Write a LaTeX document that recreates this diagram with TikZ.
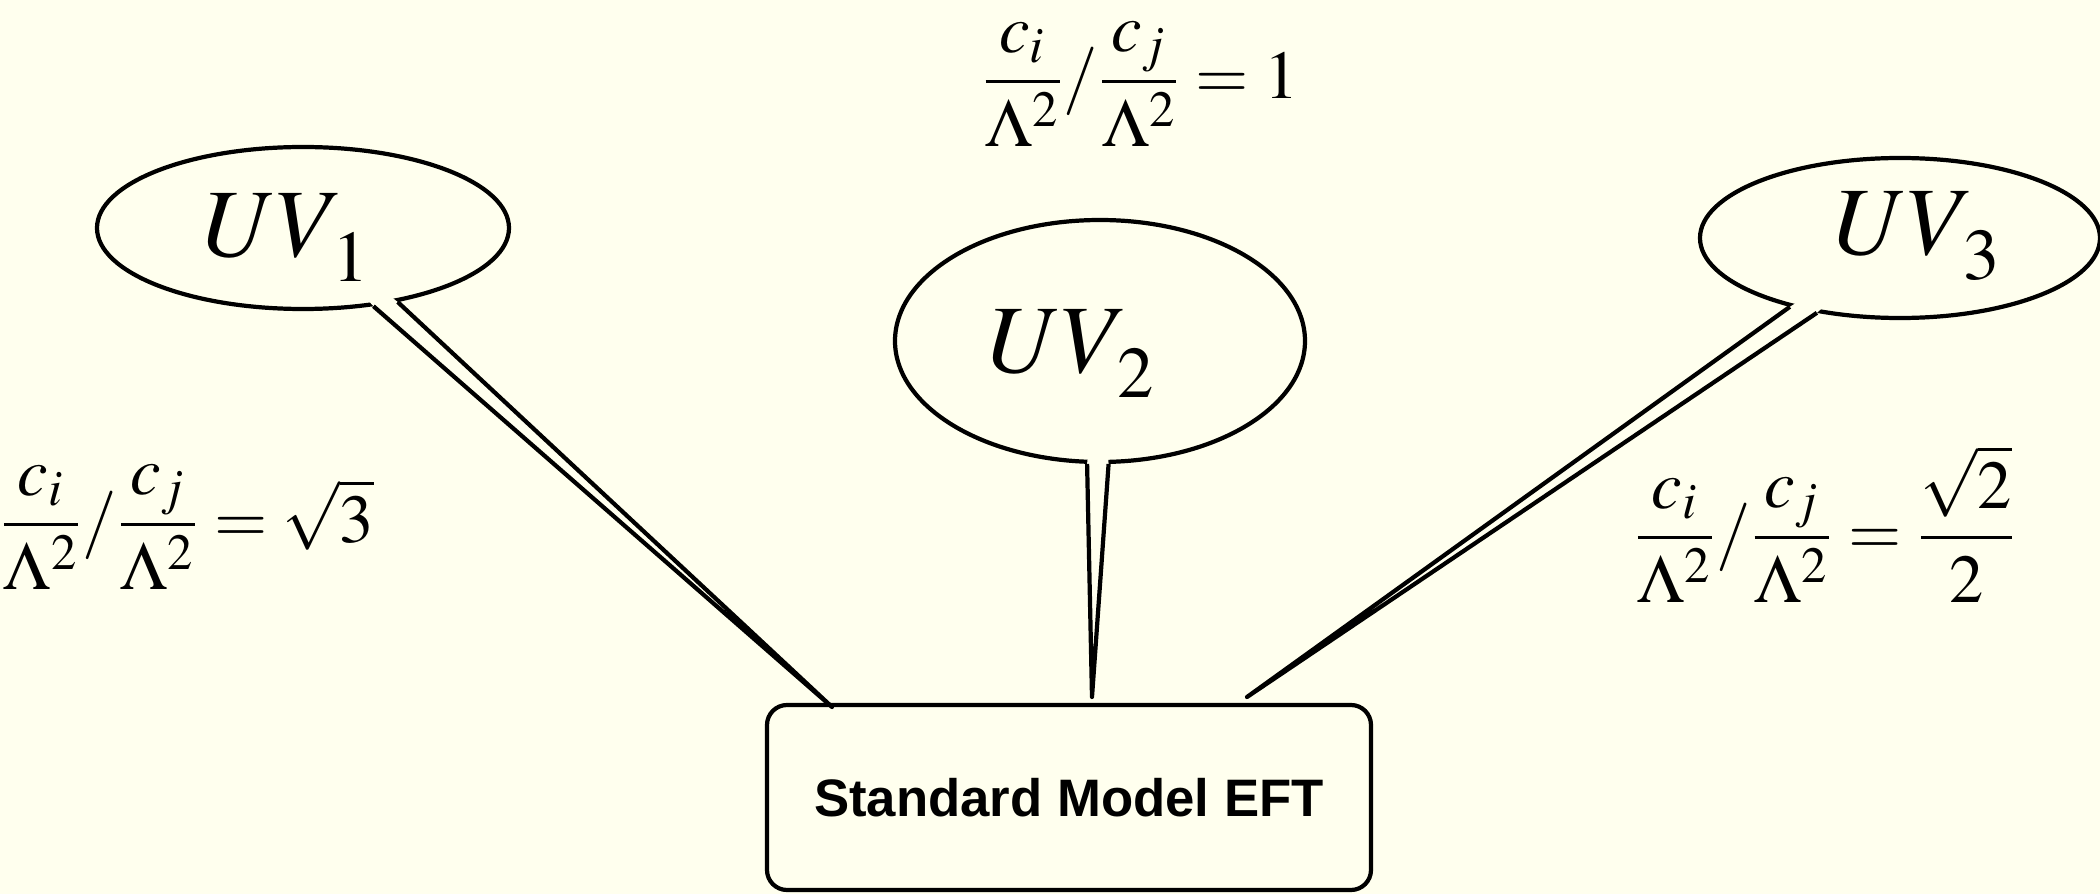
\documentclass[tikz,border=0pt]{standalone}
\usepackage{amsmath}
\usepackage{mathptmx}
\usepackage[no-math]{fontspec}
\usepackage{tikz}
\usetikzlibrary{calc,shapes.geometric}
\newfontfamily\eftfont{Liberation Sans}
\definecolor{paper}{HTML}{FFFFEE}
\newcommand{\uvname}[1]{$UV$\kern-3pt\raisebox{-7pt}{\fontsize{20.7}{21}\selectfont$#1$}}

\begin{document}
\begin{tikzpicture}[line width=1.2pt,
  uvbubble/.style={draw,ellipse,inner sep=0pt,text depth=0pt,font=\fontsize{27.5}{33}\selectfont},
  ratio/.style={anchor=base,font=\fontsize{19.5}{23}\selectfont}]
  \fill[paper] (0,0) rectangle (21,8.94);
  \useasboundingbox (0,0) rectangle (21,8.94);
  \node[uvbubble,text height=16.5pt,minimum width=4.12cm,minimum height=1.62cm] (uv1) at (3.03,6.66) {\hspace{-0.34cm}\uvname{1}};
  \node[uvbubble,text height=18.2pt,minimum width=4.10cm,minimum height=2.42cm] (uv2) at (11.00,5.53) {\hspace{-0.58cm}\uvname{2}};
  \node[uvbubble,text height=9.6pt,minimum width=4.00cm,minimum height=1.60cm] (uv3) at (19.00,6.56) {\hspace{0.34cm}\uvname{3}};
  \node[draw,rounded corners=0.2cm,minimum width=6.04cm,minimum height=1.85cm] (sm) at (10.69,0.965)
    {\eftfont\bfseries\fontsize{15}{18}\selectfont Standard Model EFT};
  \coordinate (tip1) at (8.32,1.87);
  \coordinate (tip2) at (10.92,1.97);
  \coordinate (tip3) at (12.47,1.97);
  \foreach \u/\a/\b/\t in {uv1/312/322/tip1, uv2/264/274/tip2, uv3/212/222/tip3}{
    \fill[paper] (\u.\a) -- (\t) -- (\u.\b) -- ($(\u.\b)!0.15!(\u.center)$) -- ($(\u.\a)!0.15!(\u.center)$) -- cycle;
    \draw[line join=round] (\u.\a) -- (\t) -- (\u.\b);
  }
  \node[ratio] (r2) at (11.40,7.95) {$\dfrac{c_i}{\Lambda^2}/\dfrac{c_j}{\Lambda^2}=1$};
  \node[ratio] (r1) at (1.87,3.52) {$\dfrac{c_i}{\Lambda^2}/\dfrac{c_j}{\Lambda^2}=\sqrt{3}$};
  \node[ratio] (r3) at (18.25,3.39) {$\dfrac{c_i}{\Lambda^2}/\dfrac{c_j}{\Lambda^2}=\dfrac{\sqrt{2}}{2}$};
\end{tikzpicture}
\end{document}
